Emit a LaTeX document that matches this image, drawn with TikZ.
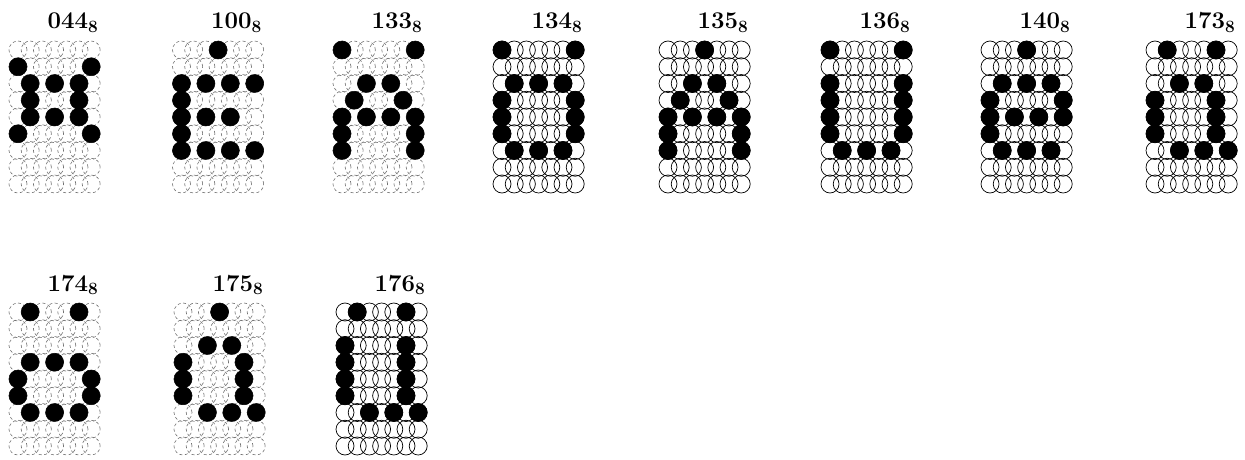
\documentclass[tikz,border=0pt]{standalone}
\usepackage{amsmath,amssymb}
\usepackage{tikz}
\tikzset{
  ring/.style={
    draw=black,
    line width=0.7pt
  },
  fadering/.style={
    draw=black!55,
    line width=0.6pt,
    dash pattern=on 3pt off 2.5pt
  },
  inkdot/.style={
    fill=black,
    draw=black,
    line width=0.5pt
  },
  codelabel/.style={
    font=\fontsize{24}{28}\selectfont\bfseries,
    inner sep=0pt,
    anchor=base
  }
}
\newcommand{\colstep}{12.2}
\newcommand{\rowstep}{16.75}
% #1,#2 = centre of top left dot, #3 = code, #4 = ring style, #5 = filled dots
\newcommand{\dotglyph}[5]{%
  \begin{scope}[shift={(#1,#2)}]
    \foreach \c in {0,...,6}
      \foreach \r in {0,...,8}
        \draw[#4] (\c*\colstep,\r*\rowstep) circle[radius=9pt];
    \foreach \c/\r in {#5}
      \filldraw[inkdot] (\c*\colstep,\r*\rowstep) circle[radius=9pt];
    \node[codelabel] (lab#3) at (55,-21) {#3$_{\mathbf{8}}$};
  \end{scope}}

\begin{document}
\begin{tikzpicture}[x=1pt, y=-1pt]
  \useasboundingbox (0,0) rectangle (1245,460);

  \dotglyph{18}{50}{044}{fadering}{0/1,6/1,1/2,3/2,5/2,1/3,5/3,1/4,3/4,5/4,0/5,6/5}
  \dotglyph{181.5}{50}{100}{fadering}{3/0,0/2,2/2,4/2,6/2,0/3,0/4,2/4,4/4,0/5,0/6,2/6,4/6,6/6}
  \dotglyph{342}{50}{133}{fadering}{0/0,6/0,2/2,4/2,1/3,5/3,0/4,2/4,4/4,6/4,0/5,6/5,0/6,6/6}
  \dotglyph{502}{50}{134}{ring}{0/0,6/0,1/2,3/2,5/2,0/3,6/3,0/4,6/4,0/5,6/5,1/6,3/6,5/6}
  \dotglyph{668}{50}{135}{ring}{3/0,2/2,4/2,1/3,5/3,0/4,2/4,4/4,6/4,0/5,6/5,0/6,6/6}
  \dotglyph{830}{50}{136}{ring}{0/0,6/0,0/2,6/2,0/3,6/3,0/4,6/4,0/5,6/5,1/6,3/6,5/6}
  \dotglyph{990}{50}{140}{ring}{3/0,1/2,3/2,5/2,0/3,6/3,0/4,2/4,4/4,6/4,0/5,1/6,3/6,5/6}
  \dotglyph{1155}{50}{173}{ring}{1/0,5/0,2/2,4/2,0/3,5/3,0/4,5/4,0/5,5/5,2/6,4/6,6/6}

  \dotglyph{18}{312}{174}{fadering}{1/0,5/0,1/3,3/3,5/3,0/4,6/4,0/5,6/5,1/6,3/6,5/6}
  \dotglyph{183}{312}{175}{fadering}{3/0,2/2,4/2,0/3,5/3,0/4,5/4,0/5,5/5,2/6,4/6,6/6}
  \dotglyph{345}{312}{176}{ring}{1/0,5/0,0/2,5/2,0/3,5/3,0/4,5/4,0/5,5/5,2/6,4/6,6/6}
\end{tikzpicture}
\end{document}
